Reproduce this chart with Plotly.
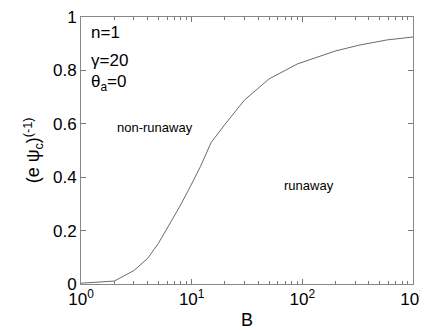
import plotly.graph_objects as go

B = [1, 1.2, 2, 3, 4, 5, 6.4, 7.8, 9.7, 12, 15, 20, 30, 40, 50, 90, 200, 330, 580, 1000]
inv_psi = [0.003, 0.005, 0.011, 0.05, 0.096, 0.152, 0.227, 0.29, 0.364, 0.44, 0.53,
           0.598, 0.689, 0.734, 0.768, 0.824, 0.873, 0.895, 0.914, 0.925]

x_ticks = [1, 10, 100, 1000]
x_ticktext = ["10<sup>0</sup>", "10<sup>1</sup>", "10<sup>2</sup>", "10<sup>3</sup>"]
x_minor = [m * d for d in (1, 10, 100) for m in range(2, 10)]
y_ticks = [0, 0.2, 0.4, 0.6, 0.8, 1]
y_ticktext = ["0", "0.2", "0.4", "0.6", "0.8", "1"]

font = "Liberation Sans, Arial, sans-serif"

fig = go.Figure()
fig.add_trace(go.Scatter(x=B, y=inv_psi, mode="lines",
                         line=dict(color="#444", width=0.8), showlegend=False))

labels = [
    (0.025, 0.985, "n=1"),
    (0.025, 0.88, "γ=20"),
    (0.025, 0.80, "θ<sub>a</sub>=0"),
]
for x, y, t in labels:
    fig.add_annotation(x=x, y=y, xref="paper", yref="paper", text=t, showarrow=False,
                       xanchor="left", yanchor="top", font=dict(size=17, color="black", family=font))

# region labels (x in log10 units)
fig.add_annotation(x=0.67, y=0.585, xref="x", yref="y", text="non-runaway", showarrow=False,
                   font=dict(size=13, color="black", family=font))
fig.add_annotation(x=2.06, y=0.37, xref="x", yref="y", text="runaway", showarrow=False,
                   font=dict(size=13, color="black", family=font))

# the page body adds an 8px offset, margins are trimmed for it
fig.update_layout(
    width=428, height=331,
    margin=dict(l=73, r=23, t=9, b=55),
    paper_bgcolor="white", plot_bgcolor="white",
    font=dict(family=font, color="black", size=17),
    xaxis=dict(type="log", range=[0, 3], tickvals=x_ticks, ticktext=x_ticktext,
               ticks="inside", ticklen=5, tickcolor="#777", showline=True, linecolor="#888",
               linewidth=1, mirror="ticks", showgrid=False, zeroline=False, automargin=False,
               ticklabeloverflow="allow",
               minor=dict(tickvals=x_minor, ticks="inside", ticklen=3, tickcolor="#777",
                          showgrid=False),
               title=dict(text="B", standoff=4, font=dict(size=18))),
    yaxis=dict(range=[0, 1], tickvals=y_ticks, ticktext=y_ticktext,
               ticks="inside", ticklen=5, tickcolor="#777", showline=True, linecolor="#888",
               linewidth=1, mirror="ticks", showgrid=False, zeroline=False, automargin=False,
               ticklabeloverflow="allow",
               title=dict(text="(e ψ<sub>c</sub>)<sup>(-1)</sup>", standoff=8, font=dict(size=18))),
)

fig.write_html("out.html")
